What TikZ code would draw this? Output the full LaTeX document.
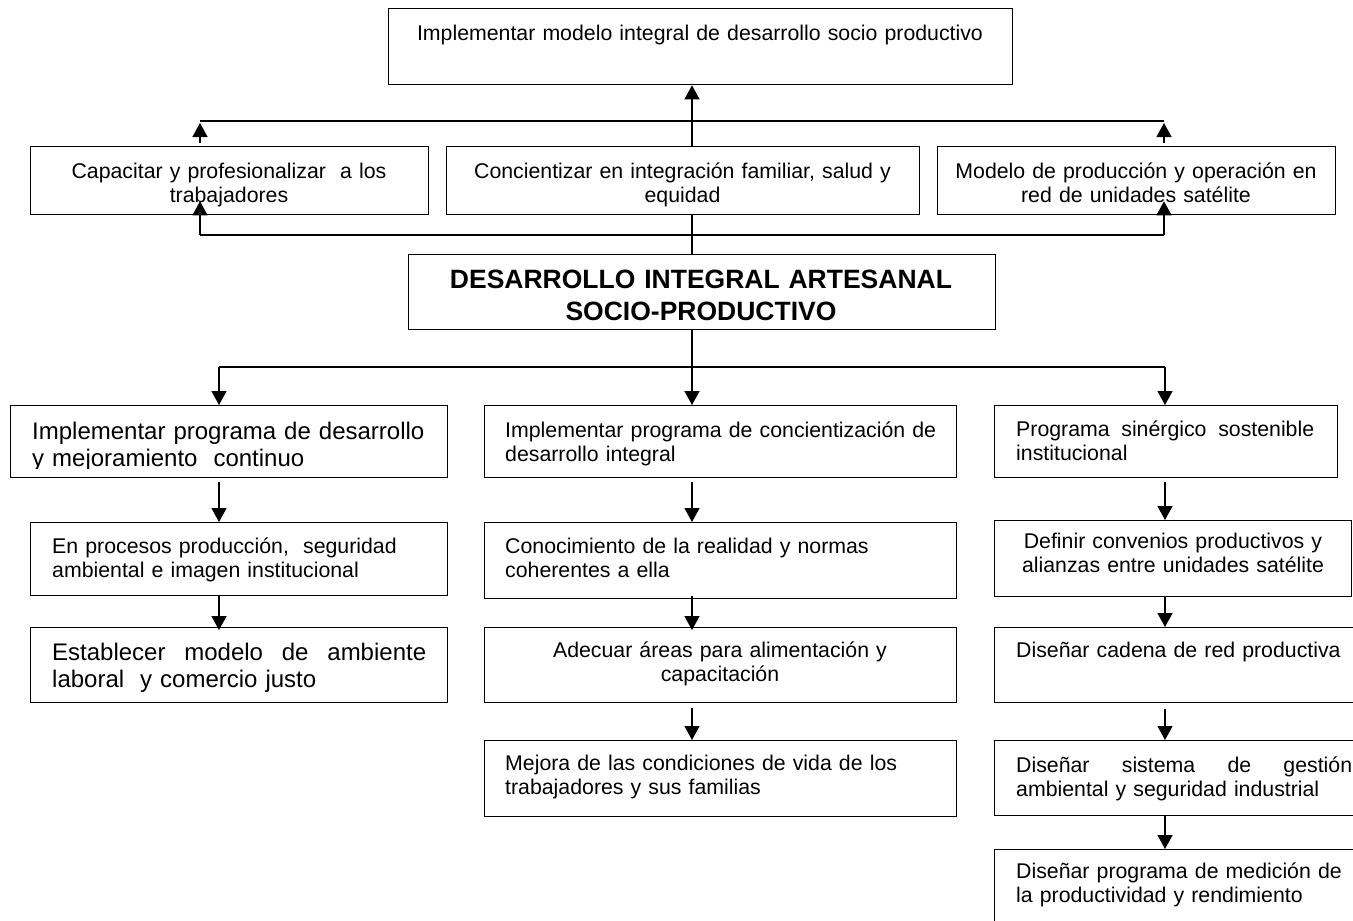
\documentclass[tikz,border=0pt]{standalone}
\usepackage{fontspec}
\setmainfont{Liberation Sans}
\usetikzlibrary{arrows.meta,calc}
\pgfdeclarelayer{bg}
\pgfsetlayers{bg,main}
\begin{document}
\begin{tikzpicture}[x=1pt,y=-1pt,
  box/.style={draw, line width=1.3pt, fill=white, inner sep=0pt, anchor=north west},
  txt/.style={inner sep=0pt, font=\fontsize{21.3}{24}\selectfont},
  bigtxt/.style={inner sep=0pt, font=\fontsize{24}{27.5}\selectfont},
  ttl/.style={inner sep=0pt, font=\fontsize{26.5}{32}\selectfont\bfseries},
  ln/.style={line width=1.3pt},
  arr/.style={line width=1.3pt, -{Triangle[width=15pt,length=14pt]}}]
\useasboundingbox (0,0) rectangle (1353,921);
\clip (0,0) rectangle (1353,921);

% ---------- boxes ----------
\node[box, minimum width=624pt, minimum height=76pt] (top) at (388,8) {};
\node[box, minimum width=398pt, minimum height=68pt] (A) at (30,146) {};
\node[box, minimum width=473pt, minimum height=68pt] (B) at (446,146) {};
\node[box, minimum width=398pt, minimum height=68pt] (C) at (937,146) {};
\node[box, minimum width=587pt, minimum height=75pt] (main) at (408,254) {};

\node[box, minimum width=437pt, minimum height=72pt] (L1) at (10,405) {};
\node[box, minimum width=417pt, minimum height=73pt] (L2) at (30,522) {};
\node[box, minimum width=417pt, minimum height=75pt] (L3) at (30,627) {};

\node[box, minimum width=472pt, minimum height=72pt] (M1) at (484,405) {};
\node[box, minimum width=472pt, minimum height=76pt] (M2) at (484,522) {};
\node[box, minimum width=472pt, minimum height=75pt] (M3) at (484,627) {};
\node[box, minimum width=472pt, minimum height=76pt] (M4) at (484,740) {};

\node[box, minimum width=343pt, minimum height=72pt] (R1) at (994,405) {};
\node[box, minimum width=357pt, minimum height=76pt] (R2) at (994,520) {};
\node[box, minimum width=380pt, minimum height=75pt] (R3) at (994,627) {};
\node[box, minimum width=380pt, minimum height=75pt] (R4) at (994,740) {};
\node[box, minimum width=380pt, minimum height=100pt] (R5) at (994,849) {};

% ---------- texts ----------
\node[txt, text width=600pt, align=center, anchor=base] (topt) at (700,40)
  {Implementar modelo integral de desarrollo socio productivo};
\node[txt, text width=390pt, align=center, anchor=base] (At) at (229,178)
  {Capacitar y profesionalizar~ a los\\trabajadores};
\node[txt, text width=470pt, align=center, anchor=base] (Bt) at (682.5,178)
  {Concientizar en integración familiar, salud y\\equidad};
\node[txt, text width=390pt, align=center, anchor=base] (Ct) at (1136,178)
  {Modelo de producción y operación en\\red de unidades satélite};
\node[ttl, text width=580pt, align=center, anchor=base] (maint) at (701,288)
  {DESARROLLO INTEGRAL ARTESANAL\\SOCIO-PRODUCTIVO};

\begin{scope}
\clip (10,405) rectangle (447,468.5);
\node[bigtxt, text width=410pt, align=left, anchor=base west] (L1t) at (32,439)
  {Implementar programa de desarrollo\\y mejoramiento~ continuo};
\end{scope}
\node[txt, text width=390pt, align=left, anchor=base west] (L2t) at (52,553)
  {En procesos producción,~ seguridad\\ambiental e imagen institucional};
\node[bigtxt, text width=390pt, align=left, anchor=base west] (L3t) at (52,660)
  {\makebox[374pt][l]{Establecer\hfill modelo\hfill de\hfill ambiente}\\laboral~ y comercio justo};

\node[txt, text width=440pt, align=left, anchor=base west] (M1t) at (505,437)
  {Implementar programa de concientización de\\desarrollo integral};
\node[txt, text width=440pt, align=left, anchor=base west] (M2t) at (505,553)
  {Conocimiento de la realidad y normas\\coherentes a ella};
\node[txt, text width=460pt, align=center, anchor=base] (M3t) at (720,657)
  {Adecuar áreas para alimentación y\\capacitación};
\node[txt, text width=440pt, align=left, anchor=base west] (M4t) at (505,770)
  {Mejora de las condiciones de vida de los\\trabajadores y sus familias};

\node[txt, text width=330pt, align=left, anchor=base west] (R1t) at (1016,436)
  {\makebox[298pt][l]{Programa\hfill sinérgico\hfill sostenible}\\institucional};
\node[txt, text width=350pt, align=center, anchor=base] (R2t) at (1173,548)
  {Definir convenios productivos y\\alianzas entre unidades satélite};
\node[txt, text width=340pt, align=left, anchor=base west] (R3t) at (1016,657)
  {Diseñar cadena de red productiva};
\node[txt, text width=340pt, align=left, anchor=base west] (R4t) at (1016,772)
  {\makebox[336pt][l]{Diseñar\hfill sistema\hfill de\hfill gestión}\\ambiental y seguridad industrial};
\node[txt, text width=340pt, align=left, anchor=base west] (R5t) at (1016,878)
  {Diseñar programa de medición de\\la productividad y rendimiento};

% ---------- junction coordinates ----------
\coordinate (cx) at (692,0);
\coordinate (jU) at (692,121);
\coordinate (uL) at (200,121);
\coordinate (uR) at (1164,121);
\coordinate (jL) at (692,235);
\coordinate (lL) at (200,235);
\coordinate (lR) at (1164,235);
\coordinate (jD) at (692,367);
\coordinate (dL) at (219,367);
\coordinate (dR) at (1165,367);

% ---------- connectors behind boxes ----------
\begin{pgfonlayer}{bg}
\draw[ln] (cx |- main.north) -- (jL) -- (jU);
\end{pgfonlayer}

% ---------- connectors ----------
\draw[ln] (uL) -- (uR);
\draw[arr] (jU) -- (cx |- top.south);
\draw[arr, shorten <=3pt] (uL |- A.north) -- ([yshift=-2pt]uL);
\draw[arr, shorten <=3pt] (uR |- C.north) -- ([yshift=-2pt]uR);

\draw[ln] (lL) -- (lR);
\draw[arr] (lL) -- ([yshift=14pt]lL |- A.south);
\draw[arr] (lR) -- ([yshift=14pt]lR |- C.south);

\draw[ln] (cx |- main.south) -- (jD);
\draw[ln] (dL) -- (dR);
\draw[arr] (dL) -- (dL |- L1.north);
\draw[arr] (jD) -- (jD |- M1.north);
\draw[arr] (dR) -- (dR |- R1.north);

\draw[arr, shorten <=4pt] (dL |- L1.south) -- (dL |- L2.north);
\draw[arr, shorten >=-3pt] (dL |- L2.south) -- (dL |- L3.north);

\draw[arr, shorten <=4pt] (jD |- M1.south) -- (jD |- M2.north);
\draw[arr, shorten <=-3pt, shorten >=-3pt] (jD |- M2.south) -- (jD |- M3.north);
\draw[arr, shorten <=5pt] (jD |- M3.south) -- (jD |- M4.north);

\draw[arr, shorten <=4pt] (dR |- R1.south) -- (dR |- R2.north);
\draw[arr] (dR |- R2.south) -- (dR |- R3.north);
\draw[arr, shorten <=6pt] (dR |- R3.south) -- (dR |- R4.north);
\draw[arr] (dR |- R4.south) -- (dR |- R5.north);
\end{tikzpicture}
\end{document}
